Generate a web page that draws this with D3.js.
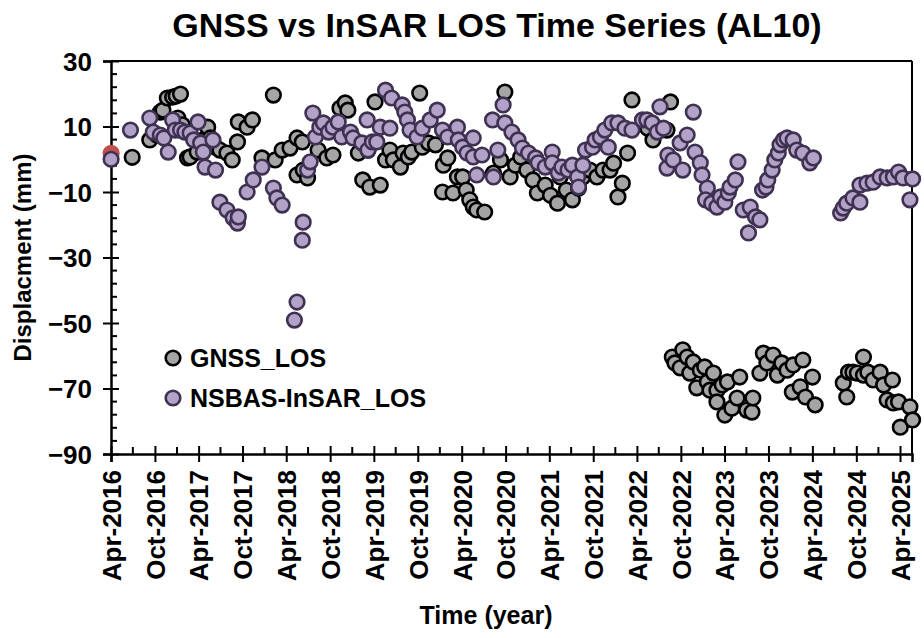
<!DOCTYPE html>
<html>
<head>
<meta charset="utf-8">
<script src="https://cdn.jsdelivr.net/npm/d3@7"></script>
<style>
  body { margin: 0; background: #fff; }
  svg text { font-family: "Liberation Sans", Arial, sans-serif; font-weight: bold; fill: #000; }
</style>
</head>
<body>
<div id="chart"></div>
<script>
// time in decimal years, LOS displacement in mm
var gnssTime = [2016.49, 2016.69, 2016.77, 2016.81, 2016.84, 2016.89, 2016.95, 2016.99, 2017.04, 2017.01,
  2017.06, 2017.12, 2017.15, 2017.23, 2017.30, 2017.35, 2017.38, 2017.44, 2017.49, 2017.57,
  2017.63, 2017.69, 2017.70, 2017.80, 2017.86, 2017.97, 2018.10, 2018.12, 2018.20, 2018.29,
  2018.37, 2018.37, 2018.43, 2018.44, 2018.49, 2018.61, 2018.71, 2018.78, 2018.86, 2018.92,
  2018.95, 2019.07, 2019.12, 2019.18, 2019.20, 2019.26, 2019.32, 2019.38, 2019.43, 2019.47,
  2019.55, 2019.58, 2019.64, 2019.68, 2019.77, 2019.80, 2019.87, 2019.95, 2020.03, 2020.04,
  2020.09, 2020.15, 2020.20, 2020.26, 2020.30, 2020.34, 2020.38, 2020.42, 2020.51, 2020.61,
  2020.69, 2020.74, 2020.80, 2020.86, 2020.92, 2020.99, 2021.06, 2021.11, 2021.20, 2021.26,
  2021.34, 2021.37, 2021.44, 2021.51, 2021.58, 2021.63, 2021.71, 2021.79, 2021.86, 2021.94,
  2021.98, 2022.03, 2022.08, 2022.14, 2022.19, 2022.37, 2022.43, 2022.59, 2022.63,
  2022.65, 2022.68, 2022.74, 2022.77, 2022.82, 2022.85, 2022.89, 2022.93, 2022.97, 2023.02,
  2023.05, 2023.08, 2023.12, 2023.16, 2023.16, 2023.22, 2023.25, 2023.28, 2023.33, 2023.39,
  2023.42, 2023.50, 2023.56, 2023.57, 2023.65, 2023.69, 2023.73, 2023.80, 2023.85, 2023.90,
  2023.96, 2024.02, 2024.03, 2024.11, 2024.14, 2024.17, 2024.25, 2024.28,
  2024.60, 2024.64, 2024.66, 2024.71, 2024.76, 2024.83, 2024.83, 2024.88, 2024.94, 2025.02,
  2025.06, 2025.10, 2025.16, 2025.17, 2025.23, 2025.25, 2025.36, 2025.39];
var gnssLos = [0.6, 5.9, 7.4, 14.4, 15.0, 18.7, 19.0, 19.3, 19.9, 12.6,
  10.5, 0.4, 0.7, 2.2, 5.9, 9.8, 6.5, 3.7, 2.8, 1.9,
  -0.2, 5.3, 11.4, 9.8, 12.0, 0.4, 19.6, -0.2, 2.8, 3.4,
  6.5, -4.8, 5.3, -3.3, -5.7, 2.8, 0.4, 1.3, 15.6, 17.2,
  15.0, 1.9, -6.3, 2.8, -8.5, 17.5, -7.9, -0.2, 2.8, -0.2,
  -2.4, 1.9, 0.7, 2.2, 20.2, 3.7, 5.0, 4.4, -10.0, -1.8,
  0.4, -10.3, -5.4, -5.4, -9.4, -12.4, -14.6, -15.5, -16.1, -4.2,
  -0.2, 20.5, -5.4, -1.8, 0.7, -3.3, -6.3, -10.3, -7.9, -11.0,
  -13.4, -5.4, -9.4, -12.4, -8.8, -5.4, -3.3, -5.4, -3.3, -3.3,
  -1.2, -11.5, -7.3, 1.9, 18.1, 9.5, 5.9, 8.9, 17.5,
  -60.4, -62.2, -63.7, -58.2, -60.4, -65.3, -61.9, -69.8, -64.4, -63.4,
  -68.0, -70.5, -65.3, -70.5, -74.1, -68.9, -78.1, -68.0, -76.0, -72.9,
  -66.5, -76.6, -77.2, -72.9, -65.3, -59.2, -62.2, -59.8, -65.9, -62.2,
  -64.4, -71.1, -62.8, -69.5, -61.3, -72.6, -66.5, -75.0,
  -68.3, -72.6, -65.0, -65.0, -65.3, -60.4, -65.9, -65.0, -67.4, -65.0,
  -68.9, -73.5, -67.4, -74.4, -74.1, -81.8, -75.6, -79.6];

var insarTime = [2016.25, 2016.47, 2016.69, 2016.73, 2016.81, 2016.85, 2016.90, 2016.95, 2016.98, 2017.04,
  2017.09, 2017.15, 2017.19, 2017.24, 2017.27, 2017.30, 2017.32, 2017.41, 2017.44, 2017.49,
  2017.57, 2017.64, 2017.69, 2017.70, 2017.80, 2017.87, 2017.97, 2018.10, 2018.14, 2018.20,
  2018.34, 2018.37, 2018.43, 2018.44, 2018.49, 2018.52, 2018.55, 2018.58, 2018.63, 2018.67,
  2018.73, 2018.78, 2018.84, 2018.88, 2018.98, 2019.01, 2019.11, 2019.17, 2019.18, 2019.23,
  2019.28, 2019.32, 2019.38, 2019.43, 2019.45, 2019.57, 2019.60, 2019.63, 2019.66, 2019.74,
  2019.80, 2019.89, 2019.97, 2020.03, 2020.09, 2020.20, 2020.21, 2020.26, 2020.31, 2020.38,
  2020.38, 2020.42, 2020.48, 2020.60, 2020.61, 2020.66, 2020.72, 2020.74, 2020.82, 2020.89,
  2020.94, 2021.01, 2021.09, 2021.12, 2021.20, 2021.28, 2021.28, 2021.35, 2021.39, 2021.46,
  2021.51, 2021.57, 2021.58, 2021.63, 2021.66, 2021.74, 2021.77, 2021.83, 2021.88, 2021.92,
  2021.96, 2022.03, 2022.11, 2022.19, 2022.31, 2022.36, 2022.42, 2022.48, 2022.51, 2022.55,
  2022.59, 2022.60, 2022.66, 2022.74, 2022.77, 2022.82, 2022.89, 2022.91, 2022.97, 2022.99,
  2023.05, 2023.03, 2023.10, 2023.16, 2023.20, 2023.25, 2023.29, 2023.31, 2023.37, 2023.40,
  2023.46, 2023.52, 2023.54, 2023.60, 2023.65, 2023.68, 2023.72, 2023.74, 2023.79, 2023.82,
  2023.86, 2023.88, 2023.92, 2023.96, 2024.03, 2024.07, 2024.14, 2024.22, 2024.26,
  2024.57, 2024.60, 2024.64, 2024.71, 2024.79, 2024.79, 2024.87, 2024.94, 2025.02, 2025.10,
  2025.17, 2025.23, 2025.28, 2025.36, 2025.39];
var insarLos = [0.0, 8.9, 12.6, 8.3, 7.4, 6.5, 2.2, 12.0, 8.9, 8.9,
  8.3, 8.0, 5.9, 11.4, 5.0, 2.2, -2.4, 5.9, -3.3, -13.1,
  -15.5, -17.9, -19.5, -17.6, -10.0, -6.3, -2.4, -8.8, -11.8, -14.0,
  -49.1, -43.6, -24.7, -19.2, -3.3, -0.8, 14.1, 6.8, 9.8, 11.1,
  8.3, 9.8, 11.4, 6.8, 8.3, 6.5, 5.0, 12.0, 2.8, 5.3,
  5.3, 9.8, 21.1, 9.5, 18.7, 16.6, 14.4, 12.0, 8.9, 6.8,
  9.5, 12.0, 15.0, 8.9, 6.8, 9.8, 5.9, 3.7, 1.9, 6.5,
  0.7, -4.8, 1.3, 12.0, -5.4, 2.8, 16.6, 11.1, 8.3, 5.9,
  3.4, 1.9, 0.4, -1.1, -2.4, 2.2, -1.1, -4.2, -2.4, -3.3,
  -1.8, -5.4, -8.5, -1.8, 2.8, 3.7, 5.9, 6.8, 8.9, 3.7,
  11.1, 11.1, 9.5, 8.9, 12.0, 12.0, 11.1, 8.3, 16.0, 9.5,
  -2.7, 1.3, -0.2, 5.0, -3.3, 7.4, 14.4, 2.2, -1.1, -4.8,
  -8.8, -12.4, -13.4, -14.6, -11.5, -13.1, -10.3, -8.5, -6.3, -0.8,
  -15.5, -22.5, -14.6, -17.6, -18.5, -9.4, -8.5, -6.3, -3.3, -0.2,
  1.9, 4.4, 5.9, 6.5, 5.9, 2.8, 1.9, -1.1, 0.4,
  -16.4, -14.9, -13.4, -11.8, -13.1, -7.9, -7.3, -7.0, -5.4, -5.7,
  -5.4, -3.9, -5.7, -12.4, -6.0];

// first epoch marker (red, partly hidden)
var refTime = [2016.25];
var refLos = [1.8];

var yTicks = [-90, -70, -50, -30, -10, 10, 30];
var legendNames = ["GNSS_LOS", "NSBAS-InSAR_LOS"];

function toDate(t) {
  var yr = Math.floor(t);
  var a = new Date(yr, 0, 1), b = new Date(yr + 1, 0, 1);
  return new Date(a.getTime() + (t - yr) * (b - a));
}

var W = 924, H = 638;
var margin = { top: 61, right: 12, bottom: 184, left: 111 };
var width = W - margin.left - margin.right,
  height = H - margin.top - margin.bottom;

var svg = d3.select("#chart").append("svg")
  .attr("width", W).attr("height", H);

var g = svg.append("g")
  .attr("transform", "translate(" + margin.left + "," + margin.top + ")");

var x = d3.scaleTime()
  .domain([new Date(2016, 3, 1), new Date(2025, 4, 21)])
  .range([0, width]);
var y = d3.scaleLinear().domain([-90, 30]).range([height, 0]);

// frame on top and right
g.append("line").attr("x1", 0).attr("x2", width).attr("y1", 0).attr("y2", 0)
  .attr("stroke", "#000").attr("stroke-width", 2);
g.append("line").attr("x1", width).attr("x2", width).attr("y1", 0).attr("y2", height)
  .attr("stroke", "#000").attr("stroke-width", 2);

// minor ticks
var minorX = d3.timeMonths(new Date(2016, 6, 1), x.domain()[1], 6);
g.selectAll(".mx").data(minorX).enter().append("line")
  .attr("x1", d => x(d)).attr("x2", d => x(d))
  .attr("y1", height).attr("y2", height - 7)
  .attr("stroke", "#000").attr("stroke-width", 2);
var minorY = d3.range(-90, 31, 4).filter(v => yTicks.indexOf(v) < 0);
g.selectAll(".my").data(minorY).enter().append("line")
  .attr("x1", 0).attr("x2", 6)
  .attr("y1", d => y(d)).attr("y2", d => y(d))
  .attr("stroke", "#000").attr("stroke-width", 2);

// X axis
var majorX = d3.timeMonths(new Date(2016, 3, 1), x.domain()[1], 6);
var xAxis = g.append("g")
  .attr("transform", "translate(0," + height + ")")
  .call(d3.axisBottom(x).tickValues(majorX).tickFormat(d3.timeFormat("%b-%Y")).tickSize(8));
xAxis.select(".domain").attr("stroke-width", 2.5);
xAxis.selectAll(".tick line").attr("y1", -8).attr("y2", 8).attr("stroke-width", 2);
xAxis.selectAll(".tick text")
  .style("font-size", "26px")
  .attr("text-anchor", "end")
  .attr("transform", "rotate(-90)")
  .attr("x", -16).attr("y", 0).attr("dy", "0.36em");

// Y axis
var yAxis = g.append("g")
  .call(d3.axisLeft(y).tickValues(yTicks).tickSize(8));
yAxis.select(".domain").attr("stroke-width", 2.5);
yAxis.selectAll(".tick line").attr("x1", -8).attr("x2", 8).attr("stroke-width", 2);
yAxis.selectAll(".tick text").style("font-size", "26px").attr("x", -19).attr("dy", "0.36em");

// markers
function drawSeries(times, vals, fill, stroke) {
  g.append("g").selectAll("circle")
    .data(times.map((t, i) => ({ date: toDate(t), value: vals[i] })))
    .enter().append("circle")
    .attr("cx", d => x(d.date))
    .attr("cy", d => y(d.value))
    .attr("r", 7.3)
    .attr("fill", fill)
    .attr("stroke", stroke)
    .attr("stroke-width", 2.6);
}
drawSeries(refTime, refLos, "#c0504d", "#c0504d");
drawSeries(gnssTime, gnssLos, "#a5a5a5", "#000000");
drawSeries(insarTime, insarLos, "#b3a2c7", "#3f3151");

// titles
svg.append("text").attr("x", 497).attr("y", 37).attr("text-anchor", "middle")
  .style("font-size", "34px").text("GNSS vs InSAR LOS Time Series (AL10)");
svg.append("text").attr("x", 486).attr("y", 624).attr("text-anchor", "middle")
  .style("font-size", "25px").text("Time (year)");
svg.append("text").attr("transform", "translate(31," + (margin.top + height / 2) + ") rotate(-90)")
  .attr("text-anchor", "middle").style("font-size", "24px").text("Displacment (mm)");

// legend
var legendStyle = [["#a5a5a5", "#000000"], ["#b3a2c7", "#3f3151"]];
var legend = svg.append("g").attr("transform", "translate(173,358)");
legendNames.forEach(function (name, i) {
  legend.append("circle").attr("cx", 0).attr("cy", i * 40).attr("r", 7.3)
    .attr("fill", legendStyle[i][0]).attr("stroke", legendStyle[i][1]).attr("stroke-width", 2.6);
  legend.append("text").attr("x", 17).attr("y", i * 40).attr("dy", "0.36em")
    .style("font-size", "25px").text(name);
});
</script>
</body>
</html>
